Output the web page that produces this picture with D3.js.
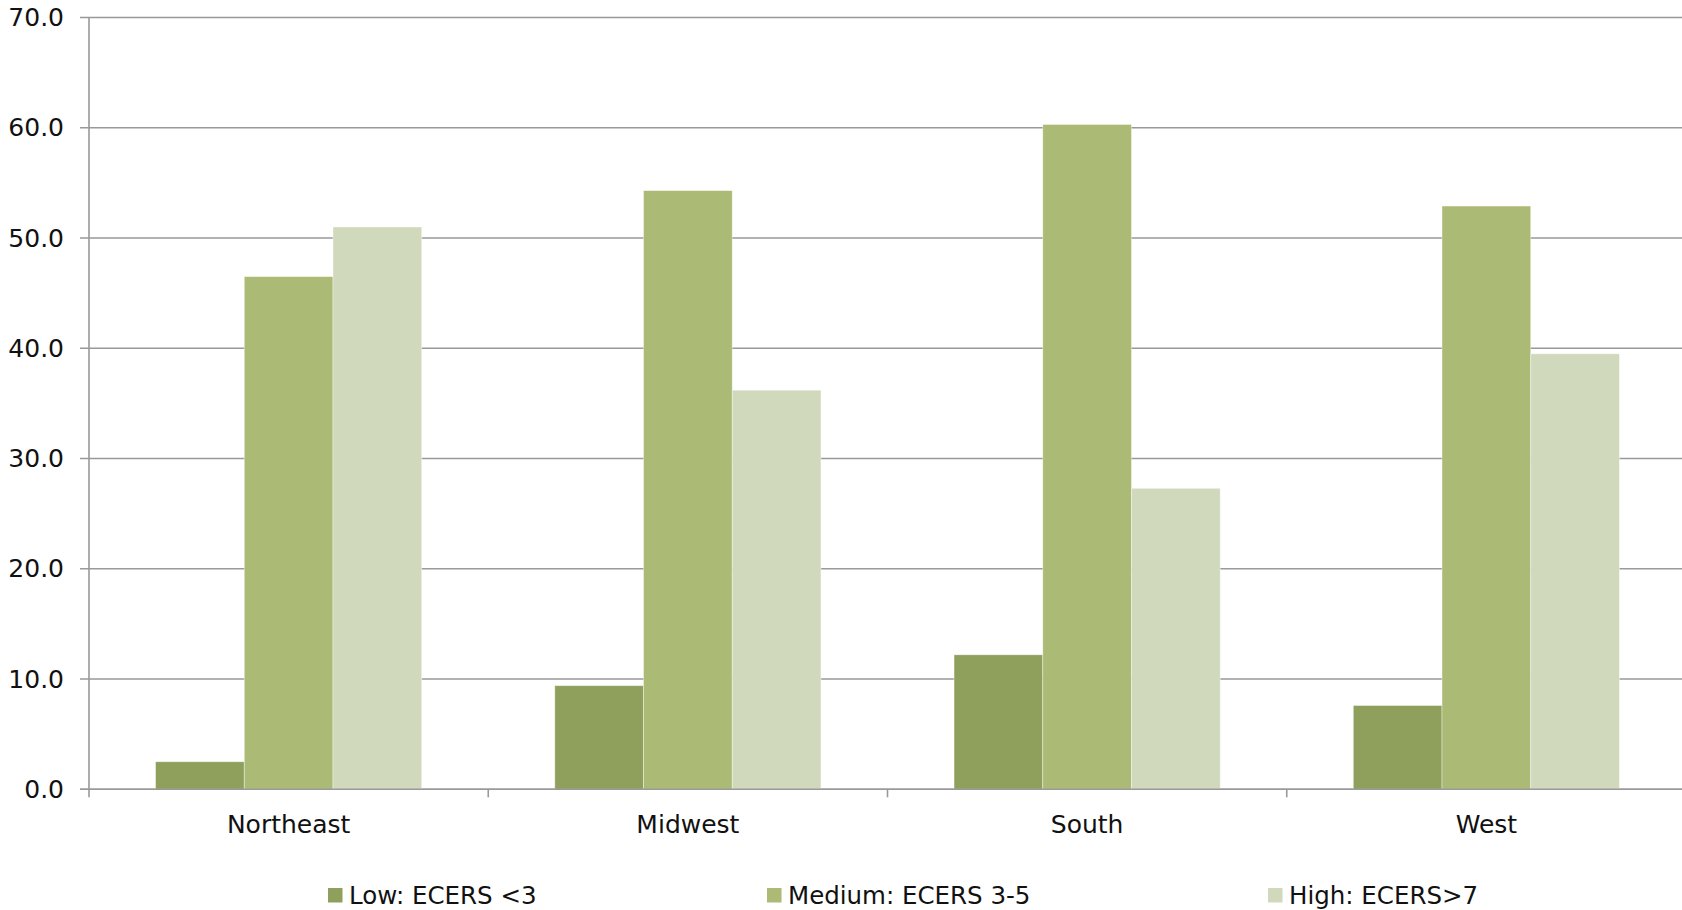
<!DOCTYPE html>
<html>
<head>
<meta charset="utf-8">
<script src="https://cdn.jsdelivr.net/npm/d3@7"></script>
<style>
  html, body { margin: 0; padding: 0; background: #fff; }
  svg { display: block; }
  text { font-family: "DejaVu Sans", sans-serif; fill: #111; }
</style>
</head>
<body>
<svg id="chart" width="1682" height="910"></svg>
<script>
const categories = ["Northeast", "Midwest", "South", "West"];
const seriesNames = ["Low: ECERS <3", "Medium: ECERS 3-5", "High: ECERS>7"];
const lowValues = [2.5, 9.4, 12.2, 7.6];
const mediumValues = [46.5, 54.3, 60.3, 52.9];
const highValues = [51.0, 36.2, 27.3, 39.5];
const yTicks = [0, 10, 20, 30, 40, 50, 60, 70];
const colors = ["#8FA05C", "#ABBA74", "#D0D9BB"];

(function () {
const series = [lowValues, mediumValues, highValues];

const svg = d3.select("#chart");
const mLeft = 89, mRight = 1686, mTop = 17.5, mBottom = 789.3;

const x0 = d3.scaleBand().domain(categories).range([mLeft, mRight]).padding(0);
const step = x0.bandwidth();
const x1 = d3.scaleBand().domain(d3.range(series.length))
  .range([step / 6, step * 5 / 6]).padding(0);
const y = d3.scaleLinear().domain([0, 70]).range([mBottom, mTop]);

// gridlines
const grid = svg.append("g");
grid.selectAll("line").data(yTicks).join("line")
  .attr("x1", mLeft - 9).attr("x2", 1682)
  .attr("y1", d => y(d)).attr("y2", d => y(d))
  .attr("stroke", "#999999").attr("stroke-width", 1.6);

// y axis labels
const yAxis = d3.axisLeft(y).tickValues(yTicks).tickFormat(d3.format(".1f")).tickSize(0).tickPadding(0);
const gy = svg.append("g").attr("transform", `translate(${mLeft - 25},0)`).call(yAxis);
gy.select(".domain").remove();
gy.selectAll("text").attr("font-size", 25).attr("fill", "#111")
  .style("font-family", '"DejaVu Sans", sans-serif');

// bars
const groups = svg.append("g").selectAll("g").data(categories).join("g")
  .attr("transform", d => `translate(${x0(d)},0)`);
groups.selectAll("rect")
  .data((c, i) => series.map((s, k) => ({ k, v: s[i] })))
  .join("rect")
  .attr("x", d => x1(d.k))
  .attr("width", x1.bandwidth())
  .attr("y", d => y(d.v))
  .attr("height", d => y(0) - y(d.v))
  .attr("fill", d => colors[d.k])
  .attr("stroke", "#ffffff").attr("stroke-opacity", 0.5).attr("stroke-width", 0.8);

// y axis line
svg.append("line").attr("x1", mLeft).attr("x2", mLeft)
  .attr("y1", mTop).attr("y2", mBottom + 8)
  .attr("stroke", "#999999").attr("stroke-width", 1.6);

// x axis
const xAxis = d3.axisBottom(x0).tickSize(0).tickPadding(0);
const gx = svg.append("g").attr("transform", `translate(0,${mBottom})`).call(xAxis);
gx.select(".domain").remove();
gx.selectAll("text").attr("font-size", 25).attr("fill", "#111")
  .attr("dy", null).attr("y", 44)
  .style("font-family", '"DejaVu Sans", sans-serif');
svg.append("line").attr("x1", mLeft - 9).attr("x2", 1682)
  .attr("y1", mBottom).attr("y2", mBottom)
  .attr("stroke", "#999999").attr("stroke-width", 1.6);
svg.append("g").selectAll("line").data(categories.slice(1)).join("line")
  .attr("x1", d => x0(d)).attr("x2", d => x0(d))
  .attr("y1", mBottom).attr("y2", mBottom + 8)
  .attr("stroke", "#999999").attr("stroke-width", 1.6);

// legend
const legendX = [328, 767, 1268];
const lg = svg.append("g").selectAll("g").data(seriesNames).join("g")
  .attr("transform", (d, i) => `translate(${legendX[i]},888)`);
lg.append("rect").attr("width", 14.5).attr("height", 14.5).attr("fill", (d, i) => colors[i]);
lg.append("text").attr("x", 21).attr("y", 15.5).attr("font-size", 24.5).text(d => d);
})();
</script>
</body>
</html>
